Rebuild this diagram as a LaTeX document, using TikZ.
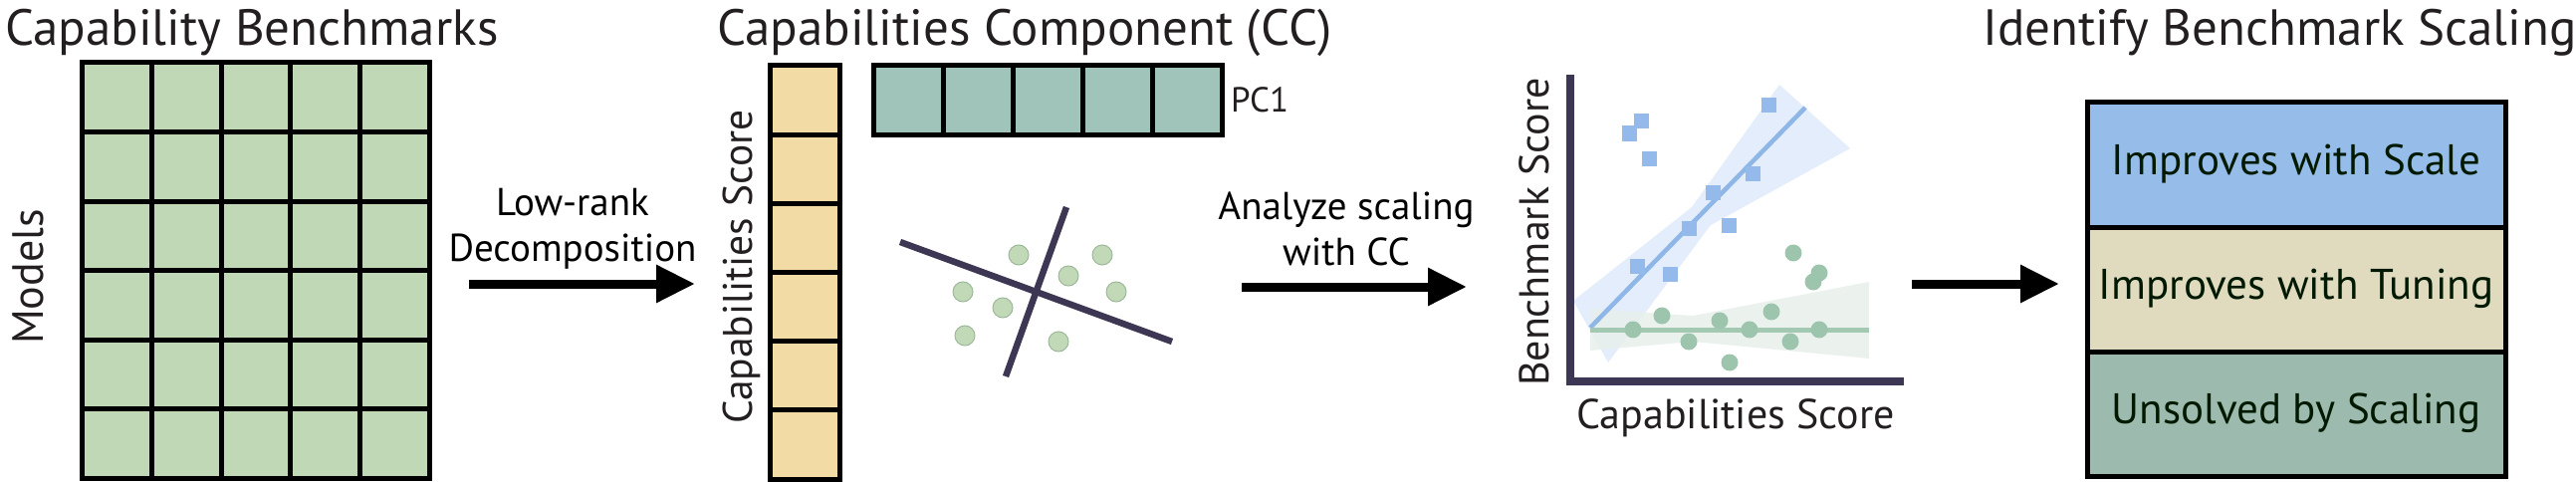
\documentclass[tikz,border=0pt]{standalone}
\usepackage{fontspec}
\setmainfont{PT Sans}
\usetikzlibrary{arrows.meta}
\definecolor{txt}{HTML}{231F20}
\definecolor{gridgreen}{HTML}{C1D8B6}
\definecolor{yellowc}{HTML}{F2DBA5}
\definecolor{pcteal}{HTML}{A0C4BA}
\definecolor{axisc}{HTML}{3D3753}
\definecolor{blueM}{HTML}{93BAEA}
\definecolor{blueL}{HTML}{8EB6E6}
\definecolor{blueBand}{HTML}{E3EDFB}
\definecolor{greenM}{HTML}{9DC4AD}
\definecolor{greenL}{HTML}{A3C9B2}
\definecolor{greenBand}{HTML}{E7F0EB}
\definecolor{catblue}{HTML}{96BDEA}
\definecolor{catbeige}{HTML}{E0DABE}
\definecolor{catgreen}{HTML}{9DBAAE}
\definecolor{pcadot}{HTML}{C2D9B8}
\definecolor{pcaedge}{HTML}{9CB89A}
\tikzset{
  title/.style={anchor=base west, inner sep=0pt, text=txt, font=\fontsize{51}{61}\selectfont},
  axlabel/.style={anchor=base, inner sep=0pt, text=txt, font=\fontsize{42}{50}\selectfont},
  arlabel/.style={anchor=base, inner sep=0pt, text=black, align=center, font=\fontsize{39}{46}\selectfont},
  cellline/.style={line width=5pt, black},
  bigarrow/.style={line width=9pt, black, -{Triangle[length=39pt,width=36pt]}},
  pcaaxis/.style={line width=6.5pt, axisc},
  pcadotst/.style={circle, minimum size=20pt, inner sep=0pt, fill=pcadot, draw=pcaedge, line width=1pt},
  bsq/.style={rectangle, minimum size=15pt, inner sep=0pt, fill=blueM},
  gdot/.style={circle, minimum size=17pt, inner sep=0pt, fill=greenM},
  catbox/.style={draw=black, line width=5pt, minimum width=420pt, minimum height=125pt, inner sep=0pt,
    text=black!90!green, text height=20pt, text depth=0pt, font=\fontsize{43}{52}\selectfont},
}
\begin{document}
\begin{tikzpicture}[x=1pt,y=-1pt]
\useasboundingbox (0,0) rectangle (2587,484);

% titles
\node[title] (t1) at (5,46) {Capability Benchmarks};
\node[title] (t2) at (720,46) {Capabilities Component (CC)};
\node[title] (t3) at (1991,46) {Identify Benchmark Scaling};

% benchmark matrix
\node[fill=gridgreen, minimum width=348pt, minimum height=417pt, inner sep=0pt] (grid) at (257,271.5) {};
\foreach \i in {1,...,4} \draw[cellline] ({83+\i*69.6},63) -- ({83+\i*69.6},480);
\foreach \j in {1,...,5} \draw[cellline] (83,{63+\j*69.5}) -- (431,{63+\j*69.5});
\draw[cellline] (grid.north west) rectangle (grid.south east);
\node[axlabel, rotate=90, font=\fontsize{44}{52}\selectfont] (models) at (43,278) {Models};

% arrow 1
\node[arlabel] (lab1) at (575,262) {Low-rank\\Decomposition};
\coordinate (a1s) at (471,285);
\coordinate (a1e) at (698,285);
\draw[bigarrow] (a1s) -- (a1e);

% capabilities score column
\node[fill=yellowc, minimum width=69pt, minimum height=415pt, inner sep=0pt] (col) at (808.5,273.5) {};
\foreach \j in {1,...,5} \draw[cellline] (774,{66+\j*69.17}) -- (843,{66+\j*69.17});
\draw[cellline] (col.north west) rectangle (col.south east);
\node[axlabel, rotate=90, font=\fontsize{41.5}{50}\selectfont] (cslab) at (755,268) {Capabilities Score};

% PC1 row
\node[fill=pcteal, minimum width=349pt, minimum height=69pt, inner sep=0pt] (pc1) at (1052.5,100.5) {};
\foreach \i in {1,...,4} \draw[cellline] ({878+\i*69.8},66) -- ({878+\i*69.8},135);
\draw[cellline] (pc1.north west) rectangle (pc1.south east);
\node[anchor=base west, inner sep=0pt, text=txt, font=\fontsize{35}{42}\selectfont] (pc1lab) at (1236,113) {PC1};

% PCA scatter
\coordinate (p1a) at (904,243); \coordinate (p1b) at (1177,343);
\coordinate (p2a) at (1071,208); \coordinate (p2b) at (1010,378);
\draw[pcaaxis] (p1a) -- (p1b);
\draw[pcaaxis] (p2a) -- (p2b);
\foreach \x/\y [count=\k] in {1023/256,1107/256,1073/277,967/293,1121/293,1007/309,969/337,1063/343}
  \node[pcadotst] (pd\k) at (\x,\y) {};

% arrow 2
\node[arlabel] (lab2) at (1352,266) {Analyze scaling\\with CC};
\coordinate (a2s) at (1247,288);
\coordinate (a2e) at (1473,288);
\draw[bigarrow] (a2s) -- (a2e);

% plot
\fill[blueBand] (1580,302) -- (1699,208) -- (1787,85) -- (1858,149) -- (1718,226) -- (1615,364) -- cycle;
\fill[greenBand, opacity=0.85] (1597,310) -- (1700,317) -- (1877,283) -- (1877,360) -- (1700,343) -- (1597,352) -- cycle;
\coordinate (bl1) at (1597,329); \coordinate (bl2) at (1813,108);
\coordinate (gl1) at (1597,331); \coordinate (gl2) at (1877,331);
\draw[blueL, line width=4.5pt] (bl1) -- (bl2);
\draw[greenL, line width=5pt] (gl1) -- (gl2);
\foreach \x/\y [count=\k] in {1636/134,1648/122,1656/159,1776/106,1760/174,1720/193,1696/229,1736/226,1644/267,1677/275}
  \node[bsq] (bs\k) at (\x,\y) {};
\foreach \x/\y [count=\k] in {1640/331,1669/317,1696/343,1727/322,1737/364,1757/331,1779/313,1798/343,1827/331,1801/254,1827/274,1821/283}
  \node[gdot] (gd\k) at (\x,\y) {};
\coordinate (ytop) at (1577,75);
\coordinate (orig) at (1577,383);
\coordinate (xend) at (1912,383);
\draw[axisc, line width=8pt, line join=miter] (ytop) -- (orig) -- (xend);
\node[axlabel, rotate=90] (bslab) at (1555,233) {Benchmark Score};
\node[axlabel] (cslab2) at (1743,430) {Capabilities Score};

% arrow 3
\coordinate (a3s) at (1920,285);
\coordinate (a3e) at (2068,285);
\draw[bigarrow] (a3s) -- (a3e);

% categories
\node[catbox, fill=catgreen] (c3) at (2306,415.5) {Unsolved by Scaling};
\node[catbox, fill=catbeige] (c2) at (2306,290.5) {Improves with Tuning};
\node[catbox, fill=catblue] (c1) at (2306,165.5) {Improves with Scale};
\end{tikzpicture}
\end{document}
